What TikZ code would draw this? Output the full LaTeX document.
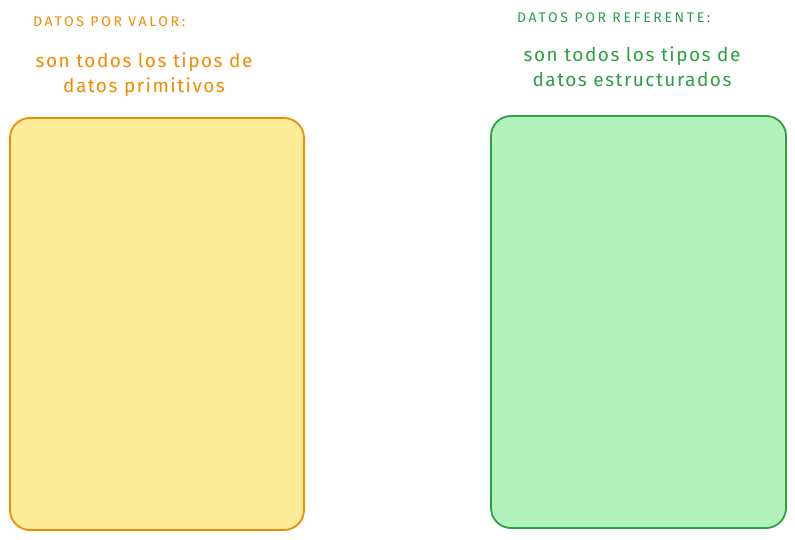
\documentclass[tikz,border=0pt]{standalone}
\usepackage{fontspec}
\setmainfont{Fira Sans}
\newfontfamily\headfont[LetterSpace=19]{Fira Sans}
\newfontfamily\descfont[LetterSpace=8]{Fira Sans}
\definecolor{orstroke}{HTML}{F08C00}
\definecolor{yelfill}{HTML}{FFEC99}
\definecolor{grstroke}{HTML}{2F9E44}
\definecolor{grfill}{HTML}{B2F2BB}
\begin{document}
\begin{tikzpicture}[x=1pt,y=-1pt,
  panel/.style={draw, line width=1.8pt, rounded corners=20pt},
  head/.style={anchor=west, inner sep=0pt, font=\headfont\fontsize{14}{16}\selectfont},
  desc/.style={align=center, inner sep=0pt, font=\descfont\fontsize{19}{25}\selectfont}]
\useasboundingbox (0,0) rectangle (795,540);
\fill[white] (0,0) rectangle (795,540);
\draw[panel, draw=orstroke, fill=yelfill] (10,118) rectangle (304,530);
\draw[panel, draw=grstroke, fill=grfill] (491,116) rectangle (786,528);
\node[head, text=orstroke] (h1) at (33,22) {DATOS POR VALOR:};
\node[desc, text=orstroke] (d1) at (144,75) {son todos los tipos de\\datos primitivos};
\node[head, text=grstroke] (h2) at (517,18) {DATOS POR REFERENTE:};
\node[desc, text=grstroke] (d2) at (632,67) {son todos los tipos de\\datos estructurados};
\end{tikzpicture}
\end{document}
